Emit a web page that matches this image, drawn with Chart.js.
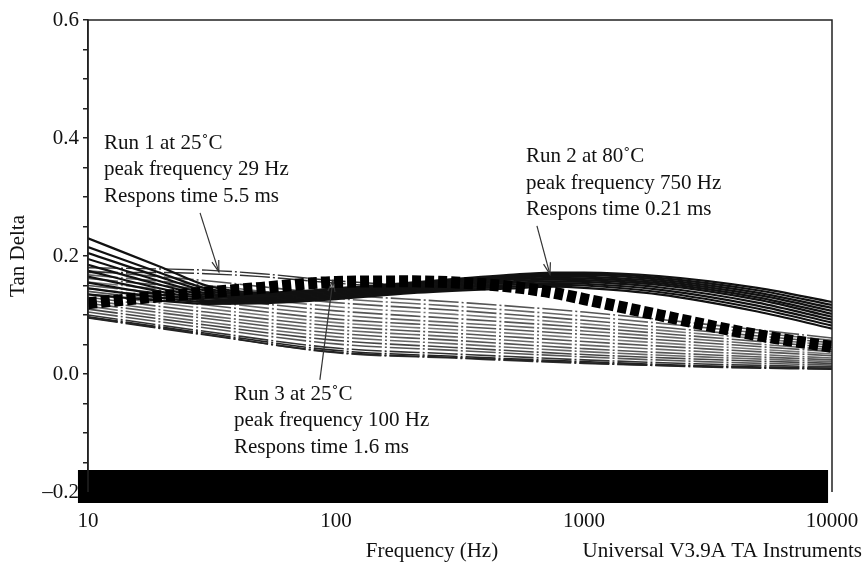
<!DOCTYPE html>
<html><head><meta charset="utf-8">
<script src="https://cdn.jsdelivr.net/npm/chart.js@4.4.1/dist/chart.umd.min.js"></script>
<style>html,body{margin:0;padding:0;background:#fff;}</style>
</head><body>
<canvas id="c" width="864" height="564"></canvas>
<script>
// ---------- data ----------
const xTickLabels = ['10', '100', '1000', '10000'];
const yTickLabels = ['–0.2', '0.0', '0.2', '0.4', '0.6'];

// lower fan of dash-dot curves
const fanFreq = [10, 30, 100, 300, 1000, 3000, 10000];
const fan01 = [0.175, 0.158, 0.135, 0.122, 0.105, 0.085, 0.061];
const fan02 = [0.168, 0.150, 0.128, 0.115, 0.098, 0.079, 0.057];
const fan03 = [0.162, 0.143, 0.121, 0.108, 0.091, 0.073, 0.053];
const fan04 = [0.156, 0.136, 0.114, 0.101, 0.085, 0.068, 0.049];
const fan05 = [0.150, 0.129, 0.107, 0.094, 0.079, 0.063, 0.045];
const fan06 = [0.145, 0.123, 0.100, 0.087, 0.073, 0.058, 0.041];
const fan07 = [0.140, 0.117, 0.093, 0.081, 0.067, 0.053, 0.038];
const fan08 = [0.135, 0.111, 0.087, 0.075, 0.061, 0.048, 0.034];
const fan09 = [0.130, 0.105, 0.081, 0.069, 0.055, 0.043, 0.031];
const fan10 = [0.125, 0.099, 0.075, 0.063, 0.049, 0.038, 0.027];
const fan11 = [0.120, 0.094, 0.069, 0.057, 0.043, 0.033, 0.024];
const fan12 = [0.115, 0.088, 0.063, 0.051, 0.038, 0.029, 0.021];
const fan13 = [0.110, 0.083, 0.057, 0.045, 0.033, 0.025, 0.018];
const fan14 = [0.105, 0.078, 0.051, 0.040, 0.029, 0.021, 0.015];
const fan15 = [0.100, 0.072, 0.044, 0.034, 0.024, 0.017, 0.012];
const fan16 = [0.097, 0.069, 0.040, 0.030, 0.021, 0.014, 0.010];
const fan17 = [0.095, 0.066, 0.037, 0.028, 0.019, 0.012, 0.008];
const fan18 = [0.096, 0.067, 0.036, 0.027, 0.018, 0.013, 0.009];

// Run 1 upper dash-dot curves
const run1Freq = [10, 20, 30, 50, 100, 200, 300];
const run1a = [0.180, 0.178, 0.176, 0.170, 0.158, 0.150, 0.146];
const run1b = [0.172, 0.172, 0.170, 0.165, 0.154, 0.146, 0.143];

// Run 2 solid family
const run2Freq = [10, 20, 30, 50, 100, 200, 500, 750, 1000, 2000, 5000, 10000];
const run2a = [0.230, 0.180, 0.150, 0.138, 0.145, 0.155, 0.168, 0.172, 0.172, 0.166, 0.146, 0.122];
const run2b = [0.215, 0.170, 0.145, 0.136, 0.143, 0.153, 0.166, 0.170, 0.170, 0.163, 0.142, 0.117];
const run2c = [0.205, 0.163, 0.141, 0.134, 0.141, 0.151, 0.164, 0.168, 0.168, 0.160, 0.138, 0.112];
const run2d = [0.195, 0.156, 0.137, 0.132, 0.139, 0.149, 0.162, 0.166, 0.165, 0.157, 0.134, 0.107];
const run2e = [0.185, 0.150, 0.134, 0.130, 0.137, 0.147, 0.160, 0.163, 0.162, 0.154, 0.130, 0.102];
const run2f = [0.175, 0.144, 0.131, 0.128, 0.135, 0.145, 0.157, 0.160, 0.159, 0.151, 0.126, 0.097];
const run2g = [0.165, 0.139, 0.128, 0.126, 0.133, 0.143, 0.154, 0.157, 0.156, 0.147, 0.121, 0.092];
const run2h = [0.155, 0.134, 0.125, 0.124, 0.131, 0.141, 0.151, 0.154, 0.153, 0.143, 0.116, 0.087];
const run2i = [0.145, 0.129, 0.122, 0.122, 0.129, 0.139, 0.148, 0.151, 0.150, 0.139, 0.111, 0.082];
const run2j = [0.135, 0.124, 0.119, 0.120, 0.127, 0.137, 0.145, 0.148, 0.146, 0.135, 0.106, 0.077];

// Run 3 thick dashed curve
const run3Freq = [10, 20, 50, 100, 200, 400, 700, 1000, 2000, 5000, 10000];
const run3 = [0.120, 0.132, 0.146, 0.156, 0.157, 0.152, 0.140, 0.127, 0.100, 0.066, 0.046];

// baseline band
const bandFreq = [9.11, 9640];
const bandVal = [-0.1907, -0.1907];

// annotations (data coordinates)
const notes = [
  {f: 11.6, v: 0.3915, lines: ['Run 1 at 25˚C', 'peak frequency 29 Hz', 'Respons time 5.5 ms']},
  {f: 583, v: 0.368, lines: ['Run 2 at 80˚C', 'peak frequency 750 Hz', 'Respons time 0.21 ms']},
  {f: 38.8, v: -0.034, lines: ['Run 3 at 25˚C', 'peak frequency 100 Hz', 'Respons time 1.6 ms']}
];
const arrows = [
  {from: [28.3, 0.273], to: [33.7, 0.173]},
  {from: [646, 0.251], to: [729, 0.169]},
  {from: [86.1, -0.010], to: [97.2, 0.159]}
];

// ---------- build ----------
const pts = (fr, vals) => fr.map((f, i) => ({x: f, y: vals[i]}));
const FONT = "'Liberation Serif', 'Times New Roman', serif";
const datasets = [];
const fans = [fan01, fan02, fan03, fan04, fan05, fan06, fan07, fan08, fan09, fan10, fan11, fan12, fan13, fan14, fan15, fan16, fan17, fan18];
const fanColors = ['#555', '#666', '#555', '#777', '#555', '#666', '#555', '#777', '#555', '#666', '#555', '#666', '#444', '#555', '#333', '#222', '#222', '#333'];
fans.forEach((f, i) => datasets.push({
  data: pts(fanFreq, f), borderColor: fanColors[i], borderWidth: 1.6,
  borderDash: [30, 3, 2, 3], order: 4
}));
[run1a, run1b].forEach(r => datasets.push({
  data: pts(run1Freq, r), borderColor: '#333', borderWidth: 1.4,
  borderDash: [30, 3, 2, 3], order: 3
}));
[run2a, run2b, run2c, run2d, run2e, run2f, run2g, run2h, run2i, run2j].forEach(r => datasets.push({
  data: pts(run2Freq, r), borderColor: '#111', borderWidth: 2.2, order: 2
}));
datasets.push({
  data: pts(run3Freq, run3), borderColor: '#000', borderWidth: 12,
  borderDash: [9, 4], borderCapStyle: 'butt', order: 1
});
datasets.push({
  data: pts(bandFreq, bandVal), borderColor: '#000', borderWidth: 33,
  borderCapStyle: 'butt', clip: false, order: 0, tension: 0
});

const annot = {
  id: 'annot',
  afterDatasetsDraw(chart) {
    const {ctx, chartArea: ca, scales: {x, y}} = chart;
    ctx.save();
    // frame
    ctx.strokeStyle = '#222'; ctx.lineWidth = 1.5;
    ctx.beginPath();
    ctx.moveTo(ca.left, ca.bottom); ctx.lineTo(ca.left, ca.top);
    ctx.lineTo(ca.right, ca.top); ctx.lineTo(ca.right, ca.bottom);
    ctx.stroke();
    // notes
    ctx.fillStyle = '#111';
    ctx.font = '21px ' + FONT;
    ctx.textBaseline = 'middle'; ctx.textAlign = 'left';
    notes.forEach(n => {
      const px = x.getPixelForValue(n.f), py = y.getPixelForValue(n.v);
      n.lines.forEach((t, i) => ctx.fillText(t, px, py + i * 26.5));
    });
    // arrows
    ctx.strokeStyle = '#333'; ctx.lineWidth = 1.2;
    arrows.forEach(a => {
      const x0 = x.getPixelForValue(a.from[0]), y0 = y.getPixelForValue(a.from[1]);
      const x1 = x.getPixelForValue(a.to[0]), y1 = y.getPixelForValue(a.to[1]);
      const ang = Math.atan2(y1 - y0, x1 - x0);
      ctx.beginPath(); ctx.moveTo(x0, y0); ctx.lineTo(x1, y1); ctx.stroke();
      ctx.beginPath();
      ctx.moveTo(x1 - 12 * Math.cos(ang - 0.3), y1 - 12 * Math.sin(ang - 0.3));
      ctx.lineTo(x1, y1);
      ctx.lineTo(x1 - 12 * Math.cos(ang + 0.3), y1 - 12 * Math.sin(ang + 0.3));
      ctx.stroke();
    });
    // x titles
    ctx.textAlign = 'center';
    ctx.fillText('Frequency (Hz)', 432, 551);
    ctx.textAlign = 'right';
    ctx.fillText('Universal V3.9A TA Instruments', 862, 551);
    ctx.restore();
  }
};

new Chart(document.getElementById('c'), {
  type: 'line',
  data: {datasets},
  options: {
    responsive: false, animation: false,
    layout: {padding: {left: 0, right: 0, top: 20, bottom: 0}},
    plugins: {legend: {display: false}, tooltip: {enabled: false}},
    elements: {point: {radius: 0}, line: {tension: 0.4, cubicInterpolationMode: 'monotone'}},
    scales: {
      x: {
        type: 'logarithmic', min: 10, max: 10000,
        grid: {display: false, drawTicks: false},
        border: {display: false},
        afterFit: s => { s.height = 72; s.paddingRight = 32; s.paddingLeft = 0; },
        afterBuildTicks: s => { s.ticks = xTickLabels.map(t => ({value: Number(t)})); },
        ticks: {
          autoSkip: false, maxRotation: 0, padding: 17, color: '#111',
          font: {family: FONT, size: 21},
          callback: v => { const s = String(v); return xTickLabels.includes(s) ? s : ''; }
        }
      },
      y: {
        min: -0.2, max: 0.6,
        afterFit: s => { s.width = 88; },
        grid: {drawOnChartArea: false, drawTicks: true, tickLength: 5, color: '#222', lineWidth: 1.5},
        border: {display: true, color: '#222', width: 1.5},
        title: {display: true, text: 'Tan Delta', color: '#111', font: {family: FONT, size: 21}, padding: {top: 6, bottom: 2}},
        ticks: {
          stepSize: 0.05, padding: 4, color: '#111', font: {family: FONT, size: 21},
          callback: v => {
            const k = Math.round(v / 0.2);
            if (Math.abs(v / 0.2 - k) > 1e-6) return '';
            return yTickLabels[k + 1];
          }
        }
      }
    }
  },
  plugins: [annot]
});
</script>
</body></html>
